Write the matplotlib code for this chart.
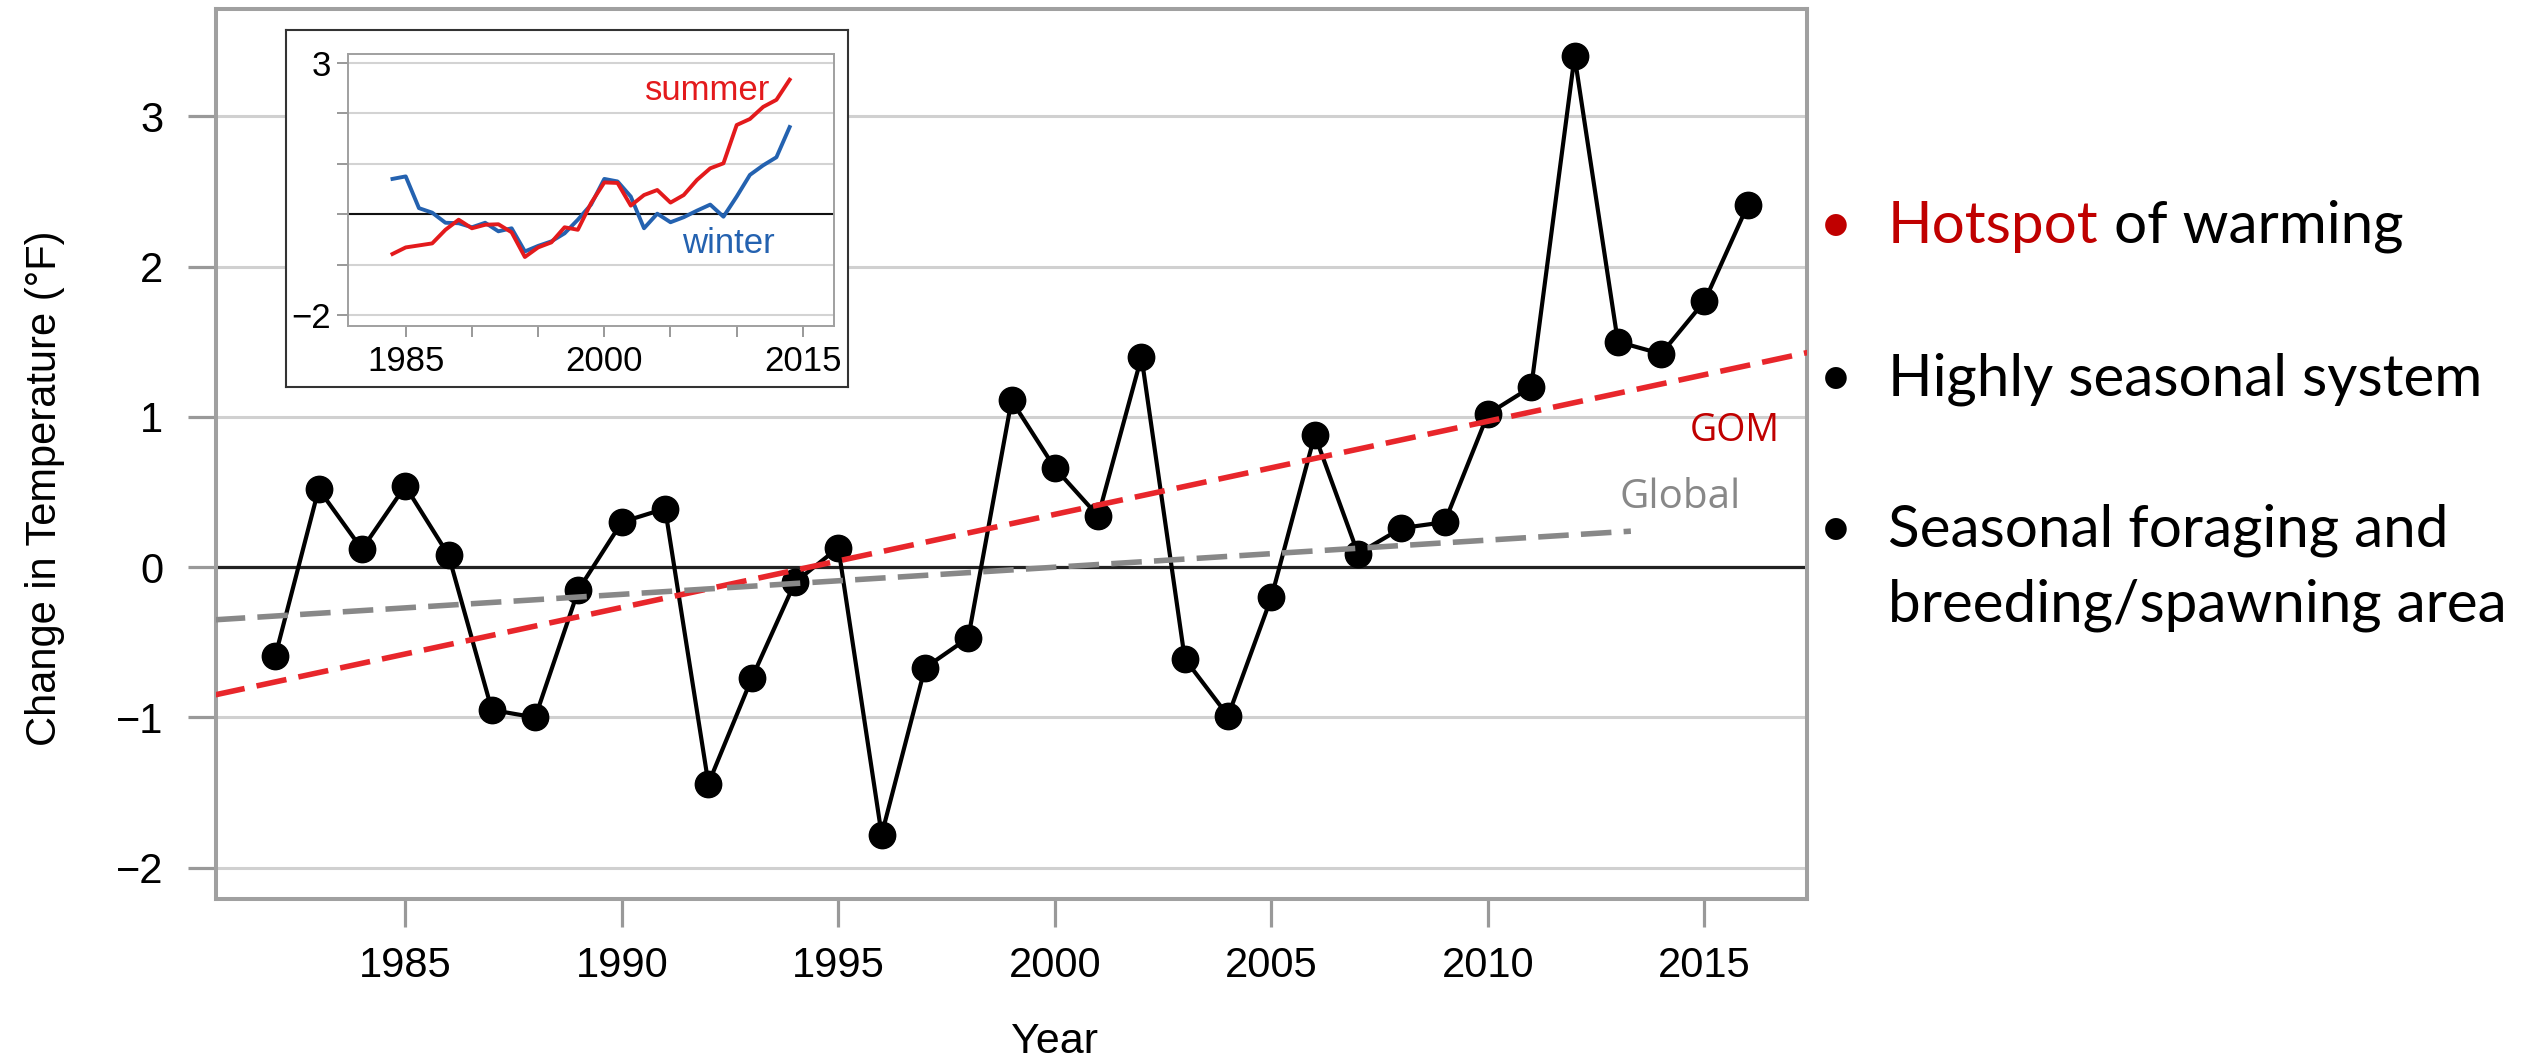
import matplotlib
matplotlib.use("Agg")
import matplotlib.pyplot as plt
import numpy as np

# Annual temperature anomaly (deg F)
years = list(range(1982, 2017))
anomaly = [-0.59, 0.52, 0.12, 0.54, 0.08, -0.95, -1.00, -0.15, 0.30, 0.39,
           -1.44, -0.74, -0.10, 0.13, -1.78, -0.67, -0.47, 1.11, 0.66, 0.34,
           1.40, -0.61, -0.99, -0.20, 0.88, 0.09, 0.26, 0.30, 1.02, 1.20,
           3.40, 1.50, 1.42, 1.77, 2.41]

# Trend lines (end points)
gom_years = [1980.6, 2017.4]
gom_trend = [-0.85, 1.43]
global_years = [1980.6, 2013.3]
global_trend = [-0.35, 0.24]

# Seasonal series for the inset
season_years = list(range(1984, 2015))
winter = [0.70, 0.75, 0.12, 0.03, -0.17, -0.18, -0.26, -0.17, -0.34, -0.28,
          -0.74, -0.63, -0.54, -0.38, -0.11, 0.19, 0.70, 0.65, 0.35, -0.28,
          0.01, -0.16, -0.06, 0.07, 0.19, -0.05, 0.35, 0.78, 0.97, 1.13, 1.73]
summer = [-0.79, -0.66, -0.62, -0.58, -0.31, -0.11, -0.28, -0.21, -0.20, -0.36,
          -0.85, -0.66, -0.56, -0.26, -0.31, 0.22, 0.63, 0.62, 0.17, 0.38,
          0.48, 0.23, 0.38, 0.68, 0.91, 1.01, 1.77, 1.89, 2.13, 2.27, 2.67]

xticks = [1985, 1990, 1995, 2000, 2005, 2010, 2015]
yticks = [-2, -1, 0, 1, 2, 3]
inset_xlabels = {1985: "1985", 2000: "2000", 2015: "2015"}
inset_ylabels = {3: "3", -2: "\u22122"}

bullets = ["Highly seasonal system", "Seasonal foraging and", "breeding/spawning area"]

W, H = 2534, 1060
fig = plt.figure(figsize=(W / 100, H / 100), dpi=100)

main_font = "Liberation Sans"

# ---- main axes ----
ax = fig.add_axes([216 / W, 1 - 899 / H, 1590.7 / W, 890 / H])
ax.set_xlim(1980.63, 2017.36)
ax.set_ylim(-2.208, 3.715)
for s in ax.spines.values():
    s.set_color("#a0a0a0")
    s.set_linewidth(2.9)
ax.set_xticks(xticks)
ax.set_yticks(yticks)
ax.set_yticklabels([str(v).replace("-", "\u2212") for v in yticks])
ax.tick_params(axis="both", direction="out", length=20, width=2.3, color="#999999",
               labelsize=30)
ax.tick_params(axis="x", pad=14)
ax.tick_params(axis="y", pad=18)
for lab in ax.get_xticklabels() + ax.get_yticklabels():
    lab.set_family(main_font)
ax.grid(axis="y", color="#d0d0d0", linewidth=2.2, zorder=0)
ax.set_axisbelow(True)
ax.axhline(0, color="#222222", linewidth=2.3, zorder=1)

ax.plot(years, anomaly, color="black", linewidth=3, marker="o", markersize=19,
        zorder=3)
ax.plot(gom_years, gom_trend, color="#e8262b", linewidth=4, dashes=(5.5, 2.2),
        zorder=4)
ax.plot(global_years, global_trend, color="#888888", linewidth=4, dashes=(5.5, 2.2),
        zorder=4)
ax.text(2015.69, 0.84, "GOM", color="#c00000", fontsize=27, family="Open Sans",
        ha="center", va="baseline")
ax.text(2014.44, 0.395, "Global", color="#888888", fontsize=29, family="Open Sans",
        ha="center", va="baseline")

fig.text(45 / W, 1 - 488 / H, "Change in Temperature (\u00b0F)", rotation=90,
         ha="center", va="center", fontsize=30, family=main_font)
fig.text(1055 / W, 1 - 1053 / H, "Year", ha="center", va="baseline",
         fontsize=31, family=main_font)

# ---- inset ----
frame = fig.add_axes([286 / W, 1 - 387 / H, 562 / W, 357 / H])
frame.set_facecolor("white")
frame.set_xticks([])
frame.set_yticks([])
for s in frame.spines.values():
    s.set_color("#333333")
    s.set_linewidth(1.5)

axi = fig.add_axes([348 / W, 1 - 326 / H, 486 / W, 272 / H])
axi.set_xlim(1980.64, 2017.35)
axi.set_ylim(-2.22, 3.18)
for s in axi.spines.values():
    s.set_color("#a0a0a0")
    s.set_linewidth(1.4)
axi.set_xticks(xticks)
axi.set_xticklabels([inset_xlabels.get(t, "") for t in xticks])
axi.set_yticks(yticks)
axi.set_yticklabels([inset_ylabels.get(t, "") for t in yticks])
axi.tick_params(axis="both", direction="out", length=8, width=1.4, color="#999999",
                labelsize=25)
axi.tick_params(axis="x", pad=6)
axi.tick_params(axis="y", pad=4)
for lab in axi.get_xticklabels() + axi.get_yticklabels():
    lab.set_family(main_font)
axi.grid(axis="y", color="#d3d3d3", linewidth=1.5, zorder=0)
axi.set_axisbelow(True)
axi.axhline(0, color="#111111", linewidth=1.5, zorder=1)
axi.plot(season_years, winter, color="#2462b0", linewidth=2.8, zorder=2)
axi.plot(season_years, summer, color="#e31a1c", linewidth=2.8, zorder=3)
axi.text(2003.1, 2.27, "summer", color="#e31a1c", fontsize=25, family=main_font,
         ha="left", va="baseline")
axi.text(2005.9, -0.78, "winter", color="#2462b0", fontsize=25, family=main_font,
         ha="left", va="baseline")

# ---- bullet list ----
side_font = "Lato"
side_size = 42
bx, tx = 1836 / W, 1888 / W
fig.text(bx, 1 - 242.7 / H, "\u2022", color="#c00000", fontsize=side_size,
         family=side_font, ha="center", va="baseline")
hot = fig.text(tx, 1 - 242.7 / H, "Hotspot", color="#c00000", fontsize=side_size,
               family=side_font, ha="left", va="baseline")
fig.canvas.draw()
ext = hot.get_window_extent(renderer=fig.canvas.get_renderer())
fig.text(ext.x1 / W, 1 - 242.7 / H, " of warming", color="black", fontsize=side_size,
         family=side_font, ha="left", va="baseline")

baselines = [396, 546.7, 621.7]
for i, (line, b) in enumerate(zip(bullets, baselines)):
    if i < 2:
        fig.text(bx, 1 - b / H, "\u2022", color="black", fontsize=side_size,
                 family=side_font, ha="center", va="baseline")
    fig.text(tx, 1 - b / H, line, color="black", fontsize=side_size,
             family=side_font, ha="left", va="baseline")

fig.savefig("out.png", dpi=100)
